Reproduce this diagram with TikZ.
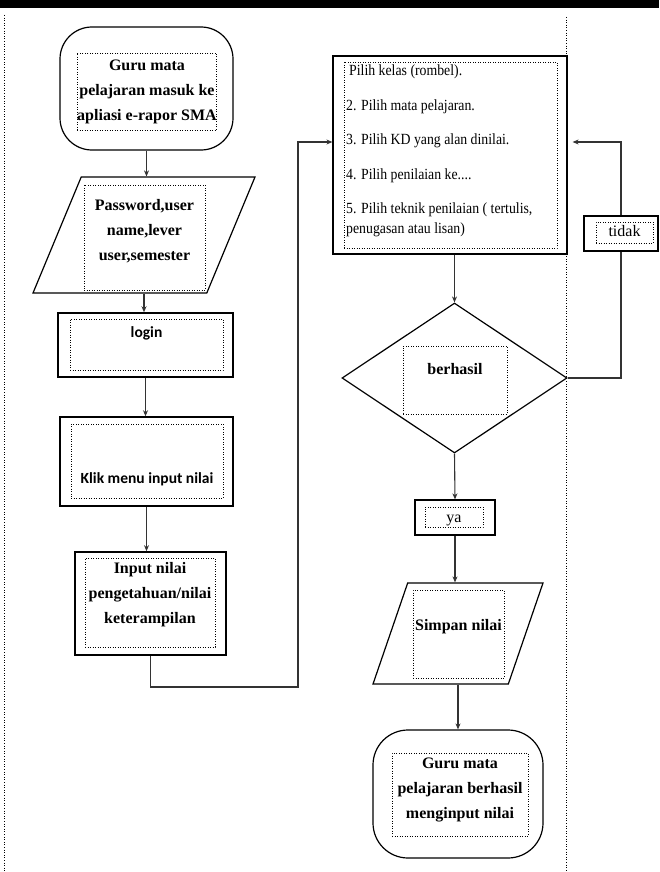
\documentclass[tikz,border=0pt]{standalone}
\usepackage{fontspec}
\setmainfont{Liberation Serif}[BoldFont={Liberation Serif Bold}]
\newfontfamily\calib{Carlito}
\newfontfamily\narrowserif[FakeStretch=0.89]{Liberation Serif}
\usetikzlibrary{shapes.geometric,arrows.meta,positioning,calc}
\tikzstyle{flow} = [line width=1.1pt,draw=black!80,-{Stealth[length=6pt,width=5pt]}]
\tikzstyle{link} = [line width=1.1pt,draw=black!80]
\tikzstyle{outline} = [draw,line width=1.2pt,inner sep=0pt]
\tikzstyle{slant} = [draw,line width=1.2pt,inner sep=2pt,trapezium,trapezium stretches]
\tikzstyle{inbox} = [draw,dash pattern=on 0.9pt off 1.6pt,line width=0.9pt,inner sep=0pt]
\tikzstyle{txt} = [font=\bfseries\fontsize{16}{25}\selectfont,align=center,inner sep=0pt]

\begin{document}
\begin{tikzpicture}[x=1pt,y=-1pt]
\useasboundingbox (0,0) rectangle (659,872);
\fill (0,0) rectangle (659,8);
\draw[dash pattern=on 1pt off 1.6pt,line width=1pt] (4,15) -- (4,872);
\draw[dash pattern=on 1pt off 1.6pt,line width=1pt] (566,17) -- (566,872);

% left column
\node[outline,rounded corners=32pt,minimum width=173pt,minimum height=123pt] (start) at (146.5,88.5) {};
\node[inbox,txt,minimum width=138pt,minimum height=77pt] (startIn) at (147,91.5) {Guru mata\\pelajaran masuk ke\\apliasi e-rapor SMA};

\node[slant,trapezium left angle=69,trapezium right angle=111,minimum width=222pt,minimum height=116pt] (pw) at (144,235) {};
\node[inbox,minimum width=121pt,minimum height=105pt] (pwIn) at (144.5,237.5) {};
\node[txt] (pwText) at (144.5,231) {Password,user\\name,lever\\user,semester};

\node[outline,line width=1.5pt,minimum width=175pt,minimum height=64pt] (login) at (145.5,345) {};
\node[inbox,font=\calib\bfseries\fontsize{15.5}{19}\selectfont,minimum width=153pt,text height=18pt,text depth=33pt] (loginIn) at (146.5,344.5) {login};

\node[outline,line width=1.5pt,minimum width=173pt,minimum height=89pt] (klik) at (146.5,461.5) {};
\node[inbox,font=\calib\bfseries\fontsize{15.5}{19}\selectfont,minimum width=152pt,text height=59pt,text depth=15pt] (klikIn) at (147,461) {Klik menu input nilai};

\node[outline,line width=1.7pt,minimum width=151pt,minimum height=103pt] (input) at (150.5,603.5) {};
\node[inbox,minimum width=130pt,minimum height=89pt] (inputIn) at (150,602.5) {};
\node[txt] (inputText) at (150,595) {Input nilai\\pengetahuan/nilai\\keterampilan};

% right column
\node[outline,minimum width=234pt,minimum height=198pt] (proc) at (450,155) {};
\node[inbox,minimum width=213pt,minimum height=186pt] (procIn) at (450.5,155) {};
\node[anchor=north west,align=left,inner sep=0pt,font=\narrowserif\fontsize{15.5}{19.5}\selectfont] (procText) at (346,65)
  {\hspace{3pt}Pilih kelas (rombel).\\[15pt]2. Pilih mata pelajaran.\\[15pt]3. Pilih KD yang alan dinilai.\\[15pt]4. Pilih penilaian ke....\\[15pt]5. Pilih teknik penilaian ( tertulis,\\penugasan atau lisan)};

\node[outline,minimum width=74pt,minimum height=35pt] (tidak) at (621,233.5) {};
\node[inbox,font=\fontsize{16}{18}\selectfont,minimum width=57pt,text height=14pt,text depth=7pt] (tidakIn) at (624.5,232.5) {tidak};

\node[outline,inner sep=2pt,diamond,minimum width=225pt,minimum height=150pt] (dec) at (454.5,378) {};
\node[inbox,font=\bfseries\fontsize{16}{18}\selectfont,minimum width=104pt,text height=28pt,text depth=40pt] (decIn) at (455,380) {berhasil};

\node[outline,minimum width=80pt,minimum height=35pt] (ya) at (455,517.5) {};
\node[inbox,font=\fontsize{16}{18}\selectfont,minimum width=58pt,text height=15pt,text depth=5pt] (yaIn) at (454,517) {ya};

\node[slant,trapezium left angle=71,trapezium right angle=109,minimum width=170pt,minimum height=101pt] (simpan) at (458,633.5) {};
\node[inbox,font=\bfseries\fontsize{16}{18}\selectfont,minimum width=91pt,text height=40pt,text depth=48pt] (simpanIn) at (458.5,634) {Simpan nilai};

\node[outline,rounded corners=35pt,minimum width=170pt,minimum height=128pt] (end) at (458,794) {};
\node[inbox,minimum width=136pt,minimum height=83pt] (endIn) at (460,794.5) {};
\node[txt] (endText) at (460,789.5) {Guru mata\\pelajaran berhasil\\menginput nilai};

% connectors
\coordinate (turn) at (298,687);
\draw[flow] (start.south) -- (start.south |- pw.north);
\draw[flow] (pw.south) -- (pw.south |- login.north);
\draw[flow] (login.south) -- (login.south |- klik.north);
\draw[flow] (klik.south) -- (klik.south |- input.north);
\draw[flow] (input.south) |- (turn) |- ([yshift=13pt]proc.west);
\draw[flow] (proc.south -| dec.north) -- (dec.north);
\draw[link] (dec.east) -| (tidak.south);
\draw[flow,shorten >=5pt] (tidak.north) |- ([yshift=13pt]proc.east);
\draw[flow] (dec.south) -- (ya.north);
\draw[flow] (ya.south) -- (ya.south |- simpan.north);
\draw[flow] (simpan.south) -- (end.north);
\end{tikzpicture}
\end{document}
